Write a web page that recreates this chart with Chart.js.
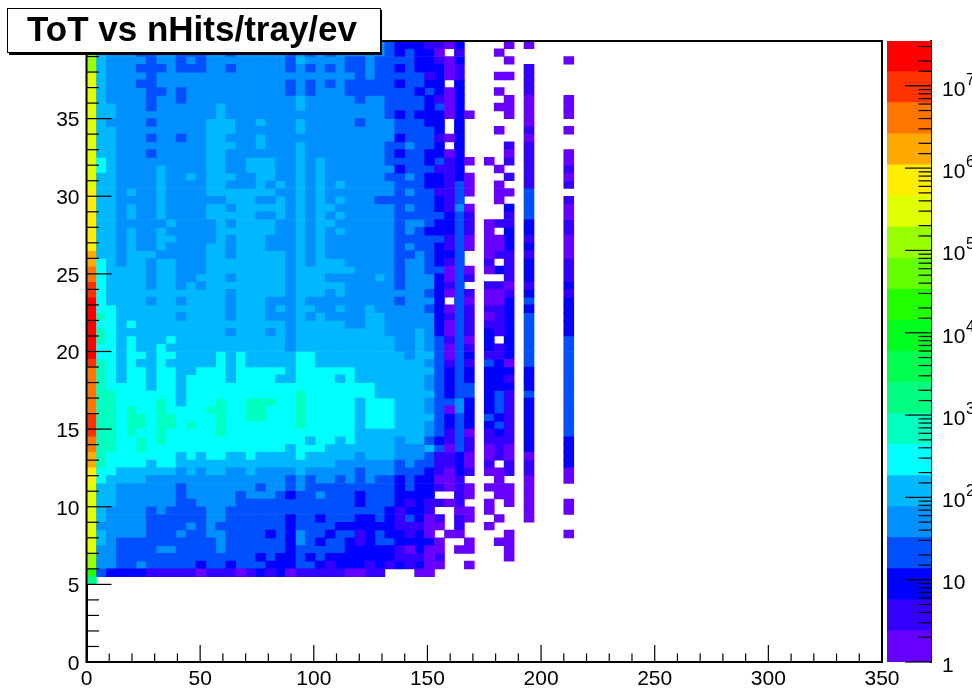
<!DOCTYPE html>
<html>
<head>
<meta charset="utf-8">
<title>ToT vs nHits/tray/ev</title>
<script src="https://cdn.jsdelivr.net/npm/chart.js@4/dist/chart.umd.min.js"></script>
<style>
	html, body { margin: 0; padding: 0; background: #fff; overflow: hidden; }
	#ID_Main { position: absolute; left: 0; top: 0; }
	#ID_Palette { position: absolute; left: 886px; top: 0; }
</style>
</head>
<body>
<canvas id="ID_Main" width="972" height="691"></canvas>
<canvas id="ID_Palette" width="86" height="691"></canvas>
<script>
var titleText = 'ToT vs nHits/tray/ev';
var fontName = '"Liberation Sans", Arial, sans-serif';

// colour of each z band, lowest first
var bandColors = ['#6600ff', '#3300ff', '#0000ff', '#0050ff', '#0090ff', '#00b8ff', '#00ffff', '#00ffc0', '#00ff80', '#00ff50',
	'#00ff20', '#22ff00', '#66ff00', '#99ff00', '#e0ff00', '#ffee00', '#ffaa00', '#ff7700', '#ff3300', '#ff0000'];
var bandEdges = [1, 2.385, 5.69, 13.6, 32.4, 77.2, 184, 439, 1047, 2498, 5957, 14208, 33884, 80813, 192700, 459600, 1096000, 2615000, 6236000, 14870000, 35000000];
var zDecades = [1, 10, 100, 1000, 10000, 100000, 1000000, 10000000];
var zDecadeLabels = ['1', '10', '10', '10', '10', '10', '10', '10'];
var zDecadeExponents = ['', '', '2', '3', '4', '5', '6', '7'];

var xBinWidth = 4.375;
var yBinHeight = 0.5;
var yTop = 40;

// z band of each cell, top row first, left column first. '.' = empty, 0-9 a-j = band
var cellRows = [
	'd544444444 4444444444 4444444444 32221102.. ..0.0....',
	'd544433443 3344344444 3434344444 323220.1.. .0.......',
	'd544443443 4344444444 3544443343 33322102.. ..0.....0',
	'd544433343 3344344444 3434343343 32322201.. ....1....',
	'e544443444 4444444444 4444444343 33331201.. .00.1....',
	'e544433444 4444444444 3434343333 323322.2.. ....1....',
	'e544443343 4444444444 3434443333 33323202.. .0..1....',
	'e544443443 4444444444 4544444344 33332102.. ..0.0...0',
	'e554443444 4445444444 4544444444 33332302.. .00.0...0',
	'e554444444 4445444444 4444444444 323222020. ..0.0...0',
	'e544443444 4455544544 4544444344 433322.2.. ....0....',
	'e554444444 4455544444 4544444444 433332.2.. .0..1...0',
	'e554443443 4455444544 4444444444 42333102.. ....0....',
	'e554444444 4455544544 4544444444 334332.2.. ..1.1....',
	'e554443444 4455444444 4544444444 32332202.. ..0.1...0',
	'e654444444 4455445554 4545444444 333323120. 0.1.1...0',
	'e654444544 4455445554 4545444444 42333112.. .0..1...1',
	'e554444544 5455544554 4545444444 334322120. ..1.1...0',
	'e554444544 4455444545 4545454444 433322130. .0..1...1',
	'f554544544 4455555554 4545444444 434331130. .00.3....',
	'f554444544 4444555445 4545454443 33333213.. .0..3...1',
	'f554544544 4455455555 4545544444 434332140. ..2.3...0',
	'f554544544 4455555445 4545454444 433333231. ..1.3...0',
	'f554444454 4445455554 4545544444 434432231. 011.2...1',
	'f554544544 4445555554 4545454444 434322231. 0.2.2...1',
	'f554544554 4445455544 4545444444 433333130. 002.1...0',
	'f554544544 4455455544 4545444444 434332130. 002.2...0',
	'g554555444 4455455555 4545444444 43343223.. 011.1...0',
	'g654554554 4455555555 4545554444 43443213.. 1.1.2...1',
	'h655554554 4455555555 4555555444 434433030. 021.2...1',
	'h655554554 4555455555 4555444445 434442031. ..1.2...1',
	'i655554554 5455555555 4555554444 43444213.. 110.1...2',
	'i655555555 5555455555 4555454444 444432031. 001.2...1',
	'j655554554 5555455544 4544444444 434442.30. 002.3...2',
	'j665555555 5555455545 4554454454 444432031. 112.2...2',
	'j765555554 5555455544 4545444455 444442131. 012.3...2',
	'j665655555 5555555555 4555554455 444442031. 112.3...2',
	'j765555555 5555455545 4555555555 444542031. 212.3...2',
	'j765655565 5555555555 4555555555 544543130. 2.2.3...3',
	'j665655655 5555555555 4555555555 544543031. 212.3...3',
	'j665665665 5556565555 5665555555 554553032. 112.3...3',
	'i765655655 5556565555 5665555555 555543131. 320.3...3',
	'h765665665 5666566666 5666666555 555553232. 222.2...3',
	'h765665665 6666566665 5666656555 555543232. 221.2...3',
	'h766665665 6666666666 6666666665 555543233. 222.2...3',
	'h776666665 6666666666 6766666665 555553233. 231.3...3',
	'h776666765 6667667776 6766666566 655543342. 231.2...3',
	'h776766766 6677667766 6766666566 655543042. 231.2...3',
	'i776776776 6667667766 6766666566 655553232. 321.2...3',
	'i776776776 7667666666 6766666566 655543232. 231.2...3',
	'i776766766 6667666666 6666666555 555543130. 121.2...3',
	'h776676766 6666666666 6656656555 545532131. 111.2...2',
	'h776676666 6666666666 5666555555 544453031. 010.2...2',
	'g766666665 6566556555 5655555455 544431120. 010.0...2',
	'g766665665 5555555555 5555544444 434331120. 1.1.1...2',
	'f665555554 5455445444 4544444344 433321021. 001.1...0',
	'f655554444 4444444444 3434434343 32322001.. .0..0...0',
	'e554444443 4444444344 3433333333 323221010. 000.0....',
	'e554444443 4444434443 2334333233 32222..10. .00.0....',
	'e554444443 3444433333 3333333233 32121101.. 0.0.0...0',
	'e544443433 3344333333 3333333333 21221..00. 0...0...0',
	'e544443333 3344333333 2332333223 213201.10. .0..0....',
	'e444443333 4343333333 2333322222 211100.1.. 0........',
	'e544443334 3344333323 2433233123 22120.00.. ..0.....0',
	'e543333333 3334333333 2432332123 322220..0. .00......',
	'e443333443 3334333333 2333332222 210200.00. ..0......',
	'd443333333 3333333232 2323222222 211101.... ..0......',
	'd443343333 3233233322 2332122212 121200..0. .........',
	'b322221111 1011101212 0111110011 ...00..... .........',
	'8......... .......... .......... .......... .........'
];

var cellDatasets = bandColors.map(function (color) {
	return { data: [], backgroundColor: color, borderWidth: 0, grouped: false, barPercentage: 1, categoryPercentage: 1 };
});
cellRows.forEach(function (row, r) {
	row.replace(/ /g, '').split('').forEach(function (ch, c) {
		if (ch === '.') return;
		var yHigh = yTop - r * yBinHeight;
		cellDatasets[parseInt(ch, 36)].data.push({ x: (c + 0.5) * xBinWidth, y: [yHigh - yBinHeight, yHigh] });
	});
});

// ROOT style ticks point into the plot
var innerTicks = {
	id: 'innerTicks',
	afterDatasetsDraw: function (chart) {
		var ctx = chart.ctx, area = chart.chartArea;
		ctx.save();
		ctx.strokeStyle = '#000';
		ctx.lineWidth = 1.2;
		chart.scales.x.ticks.forEach(function (t) {
			var px = chart.scales.x.getPixelForValue(t.value);
			var len = t.value % 50 === 0 ? 17 : 8.5;
			ctx.beginPath(); ctx.moveTo(px, area.bottom); ctx.lineTo(px, area.bottom - len); ctx.stroke();
		});
		chart.scales.y.ticks.forEach(function (t) {
			var py = chart.scales.y.getPixelForValue(t.value);
			var len = t.value % 5 === 0 ? 25 : 12.5;
			ctx.beginPath(); ctx.moveTo(area.left, py); ctx.lineTo(area.left + len, py); ctx.stroke();
		});
		ctx.lineWidth = 2;
		ctx.strokeRect(area.left, area.top, area.right - area.left, area.bottom - area.top);
		ctx.restore();
	}
};

var titleBox = {
	id: 'titleBox',
	afterDraw: function (chart) {
		var ctx = chart.ctx;
		ctx.save();
		ctx.fillStyle = '#000';
		ctx.fillRect(9, 10, 373, 45);
		ctx.fillStyle = '#fff';
		ctx.fillRect(7.5, 8.5, 373, 44);
		ctx.strokeStyle = '#000';
		ctx.lineWidth = 1;
		ctx.strokeRect(7.5, 8.5, 373, 44);
		ctx.fillStyle = '#000';
		ctx.font = 'bold 35px ' + fontName;
		ctx.textAlign = 'center';
		ctx.textBaseline = 'alphabetic';
		ctx.fillText(titleText, 192, 41);
		ctx.restore();
	}
};

new Chart(document.getElementById('ID_Main'), {
	type: 'bar',
	plugins: [innerTicks, titleBox],
	data: { datasets: cellDatasets },
	options: {
		responsive: false,
		animation: false,
		devicePixelRatio: 1,
		layout: { padding: { left: 0, top: 41, right: 90, bottom: 0 } },
		plugins: { legend: { display: false }, tooltip: { enabled: false } },
		scales: {
			x: {
				type: 'linear',
				offset: false,
				min: 0,
				max: 350,
				afterFit: function (s) { s.height = 29; },
				grid: { display: false, drawTicks: false },
				border: { display: true, color: '#000', width: 2 },
				ticks: {
					stepSize: 10,
					autoSkip: false,
					maxRotation: 0,
					padding: 5,
					color: '#000',
					font: { family: fontName, size: 21 },
					callback: function (v) { return v % 50 === 0 ? String(v) : ''; }
				}
			},
			y: {
				min: 0,
				max: 40,
				afterFit: function (s) { s.width = 86.5; },
				grid: { display: false, drawTicks: false },
				border: { display: true, color: '#000', width: 2 },
				ticks: {
					stepSize: 1,
					autoSkip: false,
					padding: 7,
					labelOffset: 2,
					color: '#000',
					font: { family: fontName, size: 21 },
					callback: function (v) { return v % 5 === 0 ? String(v) : ''; }
				}
			}
		}
	}
});

// palette axis
var paletteDatasets = bandColors.map(function (color, i) {
	return { data: [[bandEdges[i], bandEdges[i + 1]]], backgroundColor: color, borderWidth: 0, grouped: false, barPercentage: 1, categoryPercentage: 1 };
});

function decadeIndex(v) {
	for (var i = 0; i < zDecades.length; i++) {
		if (Math.abs(v - zDecades[i]) < zDecades[i] * 0.001) return i;
	}
	return -1;
}

var paletteTicks = {
	id: 'paletteTicks',
	afterDatasetsDraw: function (chart) {
		var ctx = chart.ctx, area = chart.chartArea, z = chart.scales.y;
		ctx.save();
		ctx.strokeStyle = '#000';
		ctx.lineWidth = 1.2;
		z.ticks.forEach(function (t) {
			if (t.value >= 34000000) return;
			var py = z.getPixelForValue(t.value);
			var len = decadeIndex(t.value) >= 0 ? 26 : 12.5;
			ctx.beginPath(); ctx.moveTo(area.right, py); ctx.lineTo(area.right - len, py); ctx.stroke();
		});
		// exponents of the decade labels
		ctx.fillStyle = '#000';
		ctx.font = '16px ' + fontName;
		ctx.textAlign = 'left';
		ctx.textBaseline = 'alphabetic';
		zDecades.forEach(function (v, i) {
			if (zDecadeExponents[i]) ctx.fillText(zDecadeExponents[i], area.right + 35, z.getPixelForValue(v) - 1);
		});
		ctx.restore();
	}
};

new Chart(document.getElementById('ID_Palette'), {
	type: 'bar',
	plugins: [paletteTicks],
	data: { labels: ['z'], datasets: paletteDatasets },
	options: {
		responsive: false,
		animation: false,
		devicePixelRatio: 1,
		layout: { padding: { left: 1, top: 41, right: 0, bottom: 29 } },
		plugins: { legend: { display: false }, tooltip: { enabled: false } },
		scales: {
			x: { display: false, type: 'category' },
			y: {
				type: 'logarithmic',
				position: 'right',
				min: 1,
				max: 35000000,
				afterFit: function (s) { s.width = 41; },
				grid: { display: false, drawTicks: false },
				border: { display: true, color: '#000', width: 2 },
				ticks: {
					autoSkip: false,
					padding: 11,
					labelOffset: 4,
					color: '#000',
					font: { family: fontName, size: 21 },
					callback: function (v) {
						var i = decadeIndex(v);
						return i >= 0 ? zDecadeLabels[i] : '';
					}
				}
			}
		}
	}
});
</script>
</body>
</html>
